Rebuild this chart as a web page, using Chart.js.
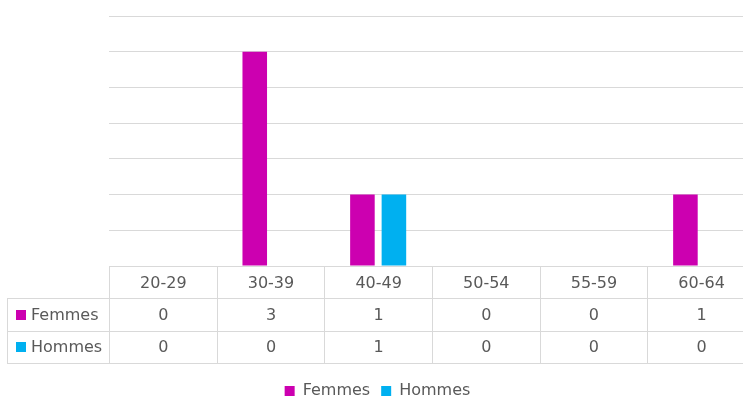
<!DOCTYPE html>
<html>
<head>
<meta charset="utf-8">
<script src="https://cdn.jsdelivr.net/npm/chart.js@4/dist/chart.umd.min.js"></script>
<style>
    html, body { margin: 0; padding: 0; background: #fff; overflow: hidden; }
    #wrap { position: absolute; left: 0; top: 0; width: 757px; height: 398px; }
    #dataTable {
        position: absolute;
        border-collapse: collapse;
        table-layout: fixed;
        font-family: "DejaVu Sans", sans-serif;
        font-size: 16px;
        color: #595959;
    }
    #dataTable td {
        border: 1px solid #d9d9d9;
        text-align: center;
        padding: 0;
        height: 31.3px;
        line-height: 18px;
        white-space: nowrap;
    }
    #dataTable td.corner { border-top: none; border-left: none; }
    #dataTable td.label { text-align: left; padding-left: 8px; }
    .key { display: inline-block; width: 10px; height: 10px; margin-right: 5px; vertical-align: 0px; }
</style>
</head>
<body>
<div id="wrap">
    <canvas id="ageChart"></canvas>
    <table id="dataTable"></table>
</div>
<script>
const categories = ['20-29', '30-39', '40-49', '50-54', '55-59', '60-64'];
const femmes = [0, 3, 1, 0, 0, 1];
const hommes = [0, 0, 1, 0, 0, 0];
const seriesNames = ['Femmes', 'Hommes'];
const seriesColors = ['#cc00b0', '#00b0f0'];

// data table under the plot, built from the same arrays
const table = document.getElementById('dataTable');
let html = '<colgroup><col id="labelCol">' + categories.map(() => '<col class="catCol">').join('') + '</colgroup>';
html += '<tr><td class="corner"></td>' + categories.map(c => '<td>' + c + '</td>').join('') + '</tr>';
[femmes, hommes].forEach((vals, i) => {
    html += '<tr><td class="label"><span class="key" style="background:' + seriesColors[i] + '"></span>' +
        seriesNames[i] + '</td>' + vals.map(v => '<td>' + v + '</td>').join('') + '</tr>';
});
table.innerHTML = html;

const placeTable = {
    id: 'placeTable',
    afterLayout(chart) {
        const a = chart.chartArea;
        const colW = (a.right - a.left) / categories.length;
        table.style.left = '7px';
        table.style.top = a.bottom + 'px';
        table.style.width = (a.right - 7) + 'px';
        document.getElementById('labelCol').style.width = (a.left - 7) + 'px';
        document.querySelectorAll('.catCol').forEach(c => c.style.width = colW + 'px');
    }
};

new Chart(document.getElementById('ageChart'), {
    type: 'bar',
    data: {
        labels: categories,
        datasets: [
            { label: seriesNames[0], data: femmes, backgroundColor: seriesColors[0] },
            { label: seriesNames[1], data: hommes, backgroundColor: seriesColors[1] }
        ]
    },
    options: {
        responsive: true,
        maintainAspectRatio: false,
        animation: false,
        events: [],
        datasets: { bar: { categoryPercentage: 0.585, barPercentage: 0.78 } },
        layout: { padding: { top: 16, right: 2, left: 0, bottom: -11 } },
        plugins: {
            tooltip: { enabled: false },
            legend: {
                position: 'bottom',
                labels: {
                    font: { family: 'DejaVu Sans', size: 16 },
                    color: '#595959',
                    boxWidth: 10,
                    boxHeight: 10,
                    padding: 11
                }
            }
        },
        scales: {
            x: {
                ticks: { display: false },
                grid: { display: false },
                border: { display: false },
                afterFit: s => { s.height = 106; }
            },
            y: {
                min: 0,
                max: 3.5,
                ticks: { display: false, stepSize: 0.5 },
                grid: { color: '#d9d9d9', drawTicks: false },
                border: { display: false },
                afterFit: s => { s.width = 109; }
            }
        }
    },
    plugins: [placeTable]
});
</script>
</body>
</html>
